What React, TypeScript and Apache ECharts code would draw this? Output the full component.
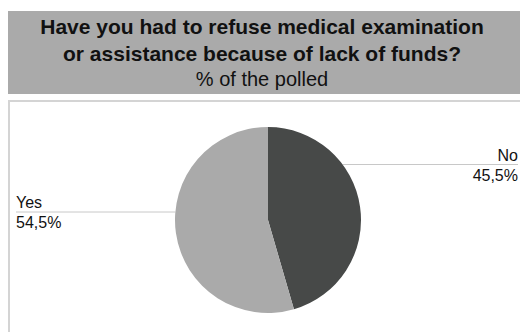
import React, { useEffect, useRef } from "react";
import * as echarts from "echarts";

const TITLE = "Have you had to refuse medical examination\nor assistance because of lack of funds?";
const SUBTITLE = "% of the polled";
const categories = ["No", "Yes"];
const values = [45.5, 54.5];
const colors = ["#474948", "#aaaaaa"];

const FONT = "'Liberation Sans', Arial, Helvetica, sans-serif";
const W = 520;
const H = 332;
const CX = 268;
const CY = 220;
const R = 93;
// per-category label layout: vertical offset of leader line from pie centre, side
const LABEL_DY: Record<string, number> = { No: -55.5, Yes: -8 };
const LABEL_SIDE: Record<string, "left" | "right"> = { No: "right", Yes: "left" };

export default function App() {
  const ref = useRef<HTMLDivElement>(null);
  useEffect(() => {
    if (!ref.current) return;
    const chart = echarts.init(ref.current, undefined, { renderer: "svg" });
    chart.setOption({
      animation: false,
      backgroundColor: "#ffffff",
      title: {
        text: TITLE,
        subtext: SUBTITLE,
        left: 262,
        textAlign: "center",
        top: 12.5,
        padding: 0,
        itemGap: 1,
        textStyle: { fontSize: 21, fontWeight: "bold", lineHeight: 27, color: "#111", fontFamily: FONT },
        subtextStyle: { fontSize: 20, lineHeight: 22, color: "#111", fontFamily: FONT },
      },
      graphic: [
        { type: "rect", z: -10, silent: true, shape: { x: 8, y: 11, width: W - 8, height: 83 }, style: { fill: "#aaaaaa" } },
        { type: "rect", z: -10, silent: true, shape: { x: 9, y: 101, width: 800, height: 500 }, style: { fill: "none", stroke: "#d4d4d4", lineWidth: 2 } },
      ],
      series: [
        {
          type: "pie",
          center: [CX, CY],
          radius: R,
          startAngle: 90,
          clockwise: true,
          data: categories.map((c, i) => ({ name: c, value: values[i], itemStyle: { color: colors[i] } })),
          label: {
            show: true,
            position: "outside",
            formatter: (p: any) => `${p.name}\n${String(p.value).replace(".", ",")}%`,
            fontSize: 16,
            lineHeight: 20,
            color: "#111",
            fontFamily: FONT,
          },
          labelLine: { show: true, length: 10, length2: 10, lineStyle: { color: "#c8c8c8", width: 1 } },
          labelLayout: (params: any) => {
            const name = categories[params.dataIndex];
            const dy = LABEL_DY[name];
            const side = LABEL_SIDE[name];
            const y = CY + dy;
            const dx = Math.sqrt(R * R - dy * dy);
            const x0 = side === "left" ? CX - dx : CX + dx;
            const x1 = side === "left" ? 16 : W - 2;
            const tx = side === "left" ? 16 : W - 2;
            return {
              x: tx,
              y: y + 0.5,
              align: side,
              verticalAlign: "middle",
              labelLinePoints: [
                [x0, y],
                [x0, y],
                [x1, y],
              ],
            };
          },
        },
      ],
    });
    return () => chart.dispose();
  }, []);
  return <div ref={ref} style={{ position: "absolute", left: 0, top: 0, width: W, height: H }} />;
}
